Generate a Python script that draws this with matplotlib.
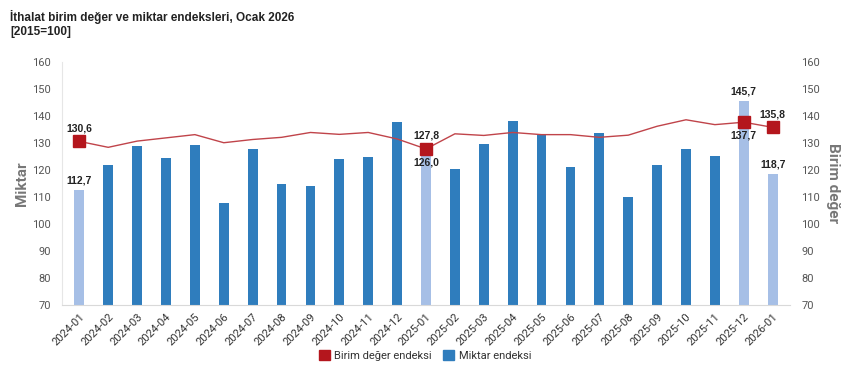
import matplotlib
matplotlib.use("Agg")
import matplotlib.pyplot as plt
from matplotlib.patches import Patch

months = ["2024-01", "2024-02", "2024-03", "2024-04", "2024-05", "2024-06", "2024-07",
          "2024-08", "2024-09", "2024-10", "2024-11", "2024-12", "2025-01", "2025-02",
          "2025-03", "2025-04", "2025-05", "2025-06", "2025-07", "2025-08", "2025-09",
          "2025-10", "2025-11", "2025-12", "2026-01"]
miktar = [112.7, 121.8, 128.8, 124.5, 129.3, 107.6, 127.6, 114.9, 114.0, 124.0, 124.9,
          137.9, 126.0, 120.3, 129.5, 138.2, 133.1, 121.2, 133.6, 109.9, 121.8, 127.8,
          125.2, 145.7, 118.7]
birim = [130.6, 128.4, 130.7, 131.9, 133.1, 130.1, 131.3, 132.1, 133.9, 133.2, 133.9,
         131.5, 127.8, 133.4, 132.8, 133.9, 133.1, 133.1, 132.1, 132.9, 136.2, 138.6,
         136.8, 137.7, 135.8]
highlight = [0, 12, 23, 24]

dark_blue = "#2f7dbd"
light_blue = "#a6bfe6"
red_line = "#c0444a"
red_mark = "#b4161d"

plt.rcParams["font.family"] = ["Roboto", "DejaVu Sans"]

fig = plt.figure(figsize=(8.5, 3.82), dpi=100)
ax = fig.add_axes([62 / 850, 1 - 305 / 382, (790 - 62) / 850, (305 - 62) / 382])
ax2 = ax.twinx()

x = range(len(months))
colors = [light_blue if i in highlight else dark_blue for i in x]
ax.bar(x, [v - 70 for v in miktar], bottom=70, width=0.34, color=colors, zorder=2)
ax2.plot(x, birim, color=red_line, lw=1.0, zorder=3)
ax2.plot([i for i in highlight], [birim[i] for i in highlight], ls="none", marker="s",
         ms=9, color=red_mark, zorder=4)

for a in (ax, ax2):
    a.set_ylim(70, 160)
    a.set_yticks(range(70, 161, 10))
    a.tick_params(axis="y", length=0, labelsize=8, colors="#555555", pad=8)
    for s in a.spines.values():
        s.set_visible(False)
ax.spines["bottom"].set_visible(True)
ax.spines["bottom"].set_color("#d9d9d9")
ax.spines["left"].set_visible(True)
ax.spines["left"].set_color("#e6e6e6")
ax.set_xlim(-0.6, len(months) - 0.4)
ax.set_xticks(list(x))
ax.set_xticklabels(months, rotation=45, ha="right", rotation_mode="anchor", fontsize=8,
                   color="#333333")
ax.tick_params(axis="x", length=0, pad=5)

ax.set_ylabel("Miktar", fontsize=11, fontweight="bold", color="#777777", va="center")
ax.yaxis.set_label_coords(-0.055, 0.5)
ax2.set_ylabel("Birim değer", fontsize=11, fontweight="bold", color="#777777",
               rotation=-90, va="center")
ax2.yaxis.set_label_coords(1.059, 0.5)

lab = dict(fontsize=7.5, fontweight="bold", color="#222222", ha="center",
           family=["Liberation Sans", "DejaVu Sans"])
# value labels
ax.text(0, miktar[0] + 1.5, "112,7", va="bottom", **lab)
ax.text(0, birim[0] + 3, "130,6", va="bottom", **lab)
ax.text(12, birim[12] + 3, "127,8", va="bottom", **lab)
ax.text(12, miktar[12] - 1.5, "126,0", va="top", **lab)
ax.text(23, miktar[23] + 1.5, "145,7", va="bottom", **lab)
ax.text(23, birim[23] - 3, "137,7", va="top", **lab)
ax.text(24, birim[24] + 3, "135,8", va="bottom", **lab)
ax.text(24, miktar[24] + 1.5, "118,7", va="bottom", **lab)

fig.text(0.012, 0.975, "İthalat birim değer ve miktar endeksleri, Ocak 2026\n[2015=100]",
         fontsize=8.5, fontweight="bold", color="#222222", va="top", ha="left",
         family=["Liberation Sans", "DejaVu Sans"], linespacing=1.3)

handles = [Patch(color=red_mark, label="Birim değer endeksi"),
           Patch(color=dark_blue, label="Miktar endeksi")]
fig.legend(handles=handles, loc="center", bbox_to_anchor=(0.5, 0.07), ncol=2,
           frameon=False, fontsize=8, handlelength=1.0, handleheight=1.0,
           handletextpad=0.4, columnspacing=1.0, labelcolor="#333333")

fig.savefig("out.png", dpi=100)
